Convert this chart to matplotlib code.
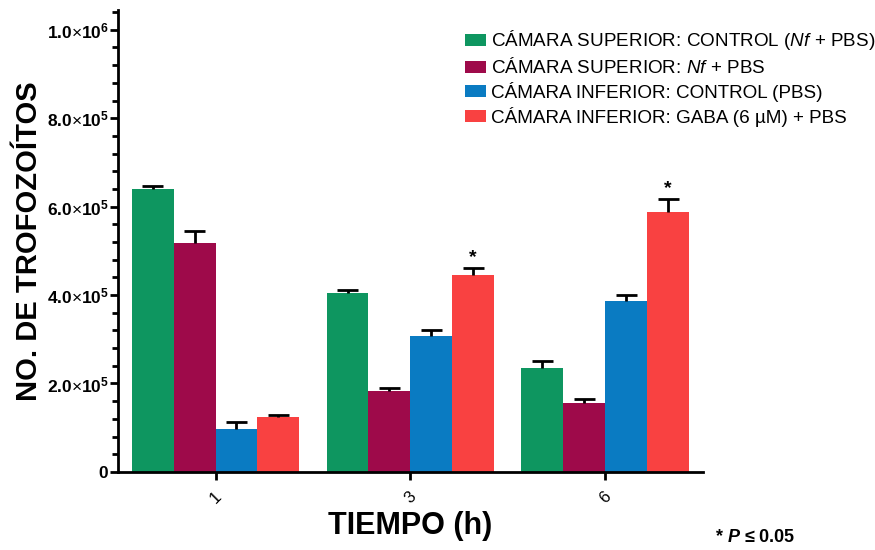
import matplotlib
matplotlib.use("Agg")
import matplotlib.pyplot as plt
import numpy as np
from matplotlib.ticker import MultipleLocator, FuncFormatter
from matplotlib.patches import Patch

plt.rcParams['font.family'] = ['Liberation Sans', 'DejaVu Sans']
plt.rcParams['mathtext.fontset'] = 'custom'
plt.rcParams['mathtext.rm'] = 'Liberation Sans'
plt.rcParams['mathtext.bf'] = 'Liberation Sans:bold'
plt.rcParams['mathtext.it'] = 'Liberation Sans:italic'
plt.rcParams['mathtext.bfit'] = 'Liberation Sans:italic:bold'

# Data
times = ["1", "3", "6"]
series_labels = [
    r"CÁMARA SUPERIOR: CONTROL ($\mathit{Nf}$ + PBS)",
    r"CÁMARA SUPERIOR: $\mathit{Nf}$ + PBS",
    "CÁMARA INFERIOR: CONTROL (PBS)",
    "CÁMARA INFERIOR: GABA (6 µM) + PBS",
]
sup_control = [640000, 405000, 234000]
sup_nf = [517000, 182000, 155000]
inf_control = [98000, 307000, 386000]
inf_gaba = [124000, 445000, 587000]
sup_control_err = [6000, 6000, 16000]
sup_nf_err = [27000, 8000, 9000]
inf_control_err = [14000, 15000, 15000]
inf_gaba_err = [4000, 16000, 30000]
significant = [False, True, True]  # GABA group
colors = ["#0E9660", "#9E0A4A", "#0A7BC2", "#F94141"]

values = [sup_control, sup_nf, inf_control, inf_gaba]
errors = [sup_control_err, sup_nf_err, inf_control_err, inf_gaba_err]

fig = plt.figure(figsize=(8.75, 5.5), dpi=100)
ax = fig.add_axes([0.135, 0.142, 0.668, 0.840])

x = np.arange(len(times))
w = 0.215
cap = w * 0.25
for i, (vals, errs, c) in enumerate(zip(values, errors, colors)):
    pos = x + (i - 1.5) * w
    vals = np.asarray(vals, float)
    errs = np.asarray(errs, float)
    ax.bar(pos, vals, width=w, color=c, edgecolor='none', zorder=2)
    tops = vals + errs
    ax.vlines(pos, vals, tops, colors='black', linewidth=2, zorder=3)
    ax.hlines(tops, pos - cap, pos + cap, colors='black', linewidth=2, zorder=3)

pos_gaba = x + 1.5 * w
for p, v, e, s in zip(pos_gaba, inf_gaba, inf_gaba_err, significant):
    if s:
        ax.text(p, v + e + 14000, "*", ha='center', va='baseline',
                fontsize=14, fontweight='bold')

ax.set_xlim(-0.5, 2.5)
ax.set_ylim(0, 1.045e6)
ax.set_xticks(x)
ax.set_xticklabels(times, rotation=45, fontsize=12)
ax.yaxis.set_major_locator(MultipleLocator(2e5))
ax.yaxis.set_minor_locator(MultipleLocator(4e4))


def fmt(v, pos):
    if v <= 0:
        return r"$\mathbf{0}$"
    ex = int(np.floor(np.log10(v) + 1e-9))
    m = v / 10 ** ex
    return r"$\mathbf{%.1f}{\times}\mathbf{10}^{\mathbf{%d}}$" % (m, ex)


ax.yaxis.set_major_formatter(FuncFormatter(fmt))
ax.tick_params(axis='y', which='major', length=6, width=2, labelsize=12.5, pad=0.5)
ax.tick_params(axis='y', which='minor', length=4, width=2)
ax.tick_params(axis='x', which='major', length=6, width=2, pad=6)
for s in ['top', 'right']:
    ax.spines[s].set_visible(False)
for s in ['left', 'bottom']:
    ax.spines[s].set_linewidth(2)

ax.set_ylabel("NO. DE TROFOZOÍTOS", fontsize=21, fontweight='bold')
ax.set_xlabel("TIEMPO (h)", fontsize=22, fontweight='bold', labelpad=4)
ax.yaxis.set_label_coords(-0.128, 0.50)

handles = [Patch(facecolor=c, edgecolor='none') for c in colors]
fig.legend(handles, series_labels, loc='upper left', bbox_to_anchor=(0.523, 0.962),
           frameon=False, fontsize=13.6, handlelength=1.1, handleheight=0.6,
           handletextpad=0.25, labelspacing=0.25, borderaxespad=0)

fig.text(0.817, 0.014, r"* $\mathbfit{P}$ ≤ 0.05", fontsize=13, fontweight='bold',
         ha='left', va='baseline')

fig.savefig("out.png", dpi=100)
